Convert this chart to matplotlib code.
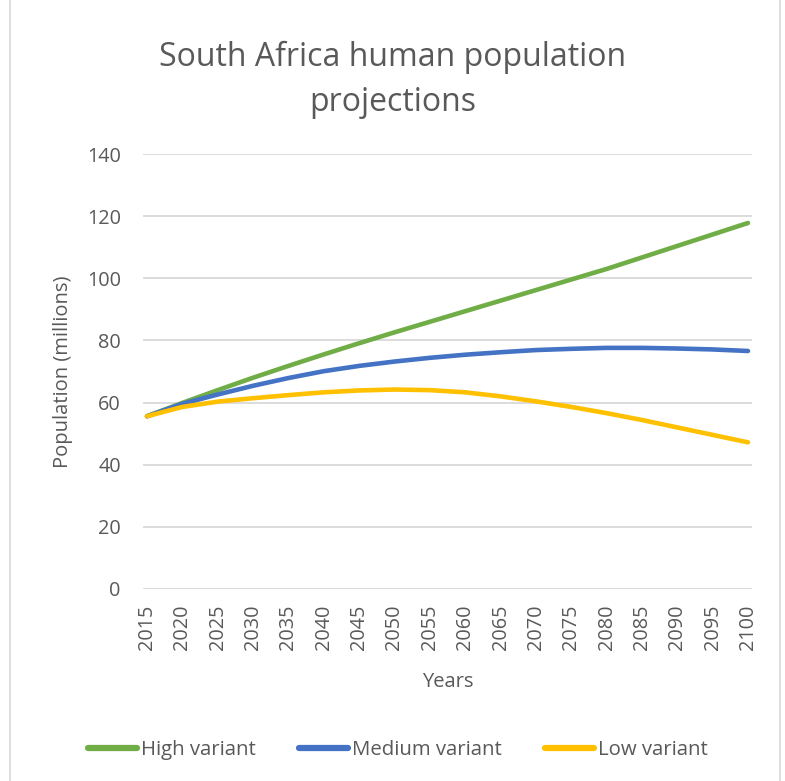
import matplotlib
matplotlib.use("Agg")
import matplotlib.pyplot as plt
from matplotlib.patches import Rectangle

# data (millions)
years = list(range(2015, 2101, 5))
high = [55.6, 59.9, 64.0, 68.0, 71.8, 75.5, 79.1, 82.6, 86.0, 89.4,
        92.8, 96.2, 99.6, 103.0, 106.7, 110.4, 114.1, 117.8]
medium = [55.6, 59.6, 62.6, 65.4, 67.9, 70.1, 71.8, 73.2, 74.4, 75.4,
          76.2, 76.9, 77.3, 77.6, 77.6, 77.4, 77.1, 76.6]
low = [55.6, 58.6, 60.3, 61.4, 62.4, 63.3, 63.9, 64.2, 64.0, 63.3,
       62.0, 60.4, 58.6, 56.6, 54.4, 52.0, 49.6, 47.2]
series = [("High variant", high, "#70AD47"),
          ("Medium variant", medium, "#4472C4"),
          ("Low variant", low, "#FFC000")]
yticks = list(range(0, 141, 20))

TXT = "#595959"
plt.rcParams["font.family"] = ["Open Sans", "DejaVu Sans"]

W, H = 785, 781
fig = plt.figure(figsize=(W / 100, H / 100), dpi=100)
ax = fig.add_axes([143 / W, 1 - 589 / H, (752 - 143) / W, (589 - 154) / H])

for name, vals, col in series:
    ax.plot(years, vals, color=col, lw=3.3, label=name, solid_capstyle="round")

ax.set_xlim(2015 - 0.57, 2100 + 0.57)
ax.set_ylim(0, 140)
ax.set_yticks(yticks)
ax.set_xticks(years)
ax.set_xticklabels([str(y) for y in years], rotation=90)
ax.tick_params(axis="both", length=0, labelsize=14.3, colors=TXT)
ax.tick_params(axis="y", pad=16)
ax.tick_params(axis="x", pad=11)
ax.grid(axis="y", color="#D9D9D9", lw=1.3)
ax.set_axisbelow(True)
for s in ax.spines.values():
    s.set_visible(False)

ax.set_ylabel("Population (millions)", fontsize=14.5, color=TXT, labelpad=10)
ax.set_xlabel("Years", fontsize=14.5, color=TXT, labelpad=16)

fig.text(0.5, 1 - 80 / H, "South Africa human population\nprojections",
         ha="center", va="center", fontsize=23, color=TXT, linespacing=1.45)

leg = fig.legend(loc="center", bbox_to_anchor=(398 / W, 1 - 750 / H), ncol=3,
                 frameon=False, fontsize=14.7, handlelength=2.4, handletextpad=0.2,
                 columnspacing=2.1)
for t in leg.get_texts():
    t.set_color(TXT)
for h in leg.get_lines():
    h.set_linewidth(4.5)

fig.patches.append(Rectangle((10 / W, -0.01), 770 / W, 1.02, transform=fig.transFigure,
                             fill=False, edgecolor="#D9D9D9", lw=1.2))

fig.savefig("out.png", dpi=100)
